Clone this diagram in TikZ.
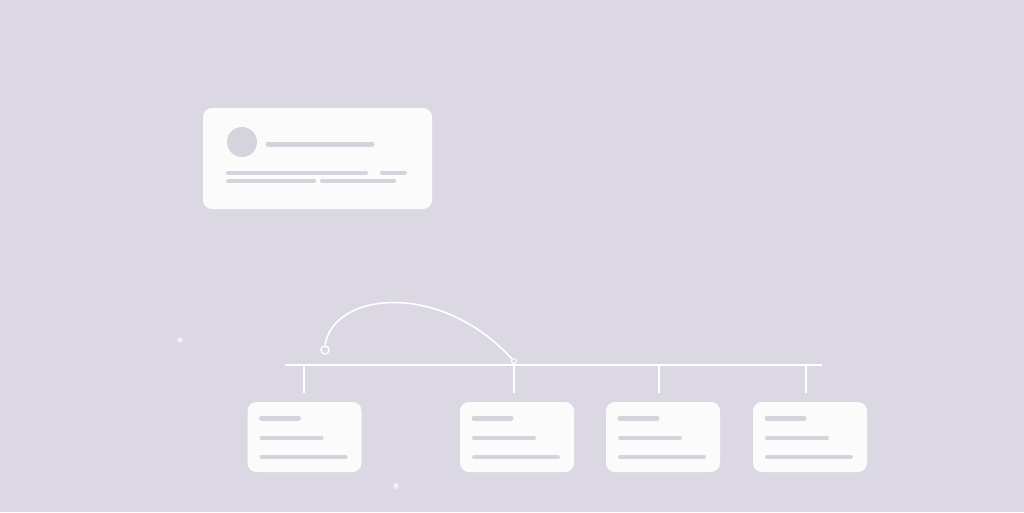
\documentclass[tikz,border=0pt]{standalone}
\begin{document}
\begin{tikzpicture}[x=1pt,y=-1pt,
  card/.style={fill=cardc, rounded corners=9pt, draw=none},
  bar/.style={draw=barc, line width=4pt, line cap=round},
  tbar/.style={draw=barc, line width=5pt, line cap=round},
  wline/.style={draw=white, line width=1.6pt}]
\definecolor{bgc}{HTML}{DCD8E3}
\definecolor{cardc}{HTML}{FBFBFC}
\definecolor{barc}{HTML}{D6D3DC}
\fill[bgc] (0,0) rectangle (1024,512);
\useasboundingbox (0,0) rectangle (1024,512);
% top card
\fill[card] (203,108) rectangle (432,209);
\node[circle, fill=barc, minimum size=30pt, inner sep=0pt] (avatar) at (242,142) {};
\draw[tbar] (268,144) -- (372,144);
\draw[bar] (228,172.5) -- (366,172.5);
\draw[bar] (382,172.5) -- (405,172.5);
\draw[bar] (228,181) -- (314,181);
\draw[bar] (322,181) -- (394,181);
% timeline
\coordinate (tl) at (285,365);
\coordinate (tr) at (822,365);
\draw[wline] (tl) -- (tr);
\foreach \x/\l in {304/247.5,514/460,659/606,806/753}{
  \draw[wline] (\x,365) -- (\x,393);
  \fill[card] (\l,402) rectangle (\l+114,472);
  \draw[tbar] (\l+14,418) -- (\l+51,418);
  \draw[bar] (\l+14,438) -- (\l+74,438);
  \draw[bar] (\l+14,457) -- (\l+98,457);
}
% arc
\node[circle, draw=white, line width=1.4pt, fill=bgc, minimum size=8pt, inner sep=0pt] (s) at (325,350) {};
\node[circle, draw=white, line width=1pt, fill=bgc, minimum size=5pt, inner sep=0pt] (e) at (514,361) {};
\draw[wline] (s.north) .. controls (333,292) and (440,280) .. (e.north west);
% faint dots
\fill[white, opacity=0.5] (180,340) circle (3pt);
\fill[white] (180,340) circle (1.2pt);
\fill[white, opacity=0.5] (396,486) circle (3pt);
\fill[white] (396,486) circle (1.2pt);
\end{tikzpicture}
\end{document}
